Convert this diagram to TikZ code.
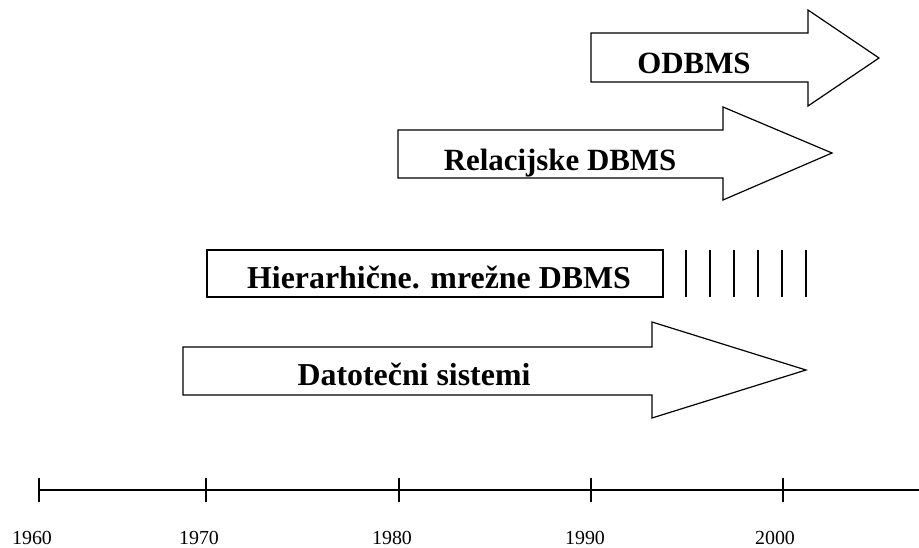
\documentclass[tikz,border=0pt]{standalone}
\usepackage{fontspec}
\setmainfont{Liberation Serif}
\usetikzlibrary{positioning}

\begin{document}
\begin{tikzpicture}[x=1bp, y=-1bp,
  strelica/.style={draw, line width=1.2bp, fill=white, line join=miter},
  naziv/.style={font=\fontsize{31}{31}\selectfont\bfseries, anchor=base, inner sep=0pt},
  godina/.style={font=\fontsize{20}{20}\selectfont, anchor=base, inner sep=0pt}]
  % 画布大小
  \useasboundingbox (0,0) rectangle (919,548);

  % ODBMS 箭头
  \draw[strelica] (591,33) -- (808,33) -- (808,10) -- (879,58) -- (808,106) -- (808,82) -- (591,82) -- cycle;
  \node[naziv] (odbms) at (694,74) {ODBMS};

  % 关系型 DBMS 箭头
  \draw[strelica] (398,130) -- (723,130) -- (723,107) -- (832,153) -- (723,200) -- (723,178) -- (398,178) -- cycle;
  \node[naziv] (rel) at (560,171) {Relacijske DBMS};

  % 层次、网状 DBMS：矩形加竖线
  \draw[strelica] (207,250) rectangle (663,297);
  \node[naziv, font=\fontsize{32}{32}\selectfont\bfseries] (hij) at (439,289) {Hierarhične. mrežne DBMS};
  \foreach \x in {686,710,734,758,782,806}
    \draw[line width=1.2bp] (\x,250) -- (\x,297);

  % 文件系统箭头
  \draw[strelica] (183,347) -- (652,347) -- (652,322) -- (806,370) -- (652,418) -- (652,395) -- (183,395) -- cycle;
  \node[naziv, font=\fontsize{32}{32}\selectfont\bfseries] (dat) at (414,385) {Datotečni sistemi};

  % 时间轴
  \coordinate (os0) at (39,490);
  \coordinate (os1) at (919,490);
  \draw[line width=1.5bp] (os0) -- (os1);
  \foreach \x in {39,206,399,591,783}
    \draw[line width=1.2bp] (\x,478) -- (\x,502);

  % 年份
  \node[godina] (g1960) at (32,544) {1960};
  \node[godina] (g1970) at (199,544) {1970};
  \node[godina] (g1980) at (392,544) {1980};
  \node[godina] (g1990) at (585,544) {1990};
  \node[godina] (g2000) at (775,544) {2000};
\end{tikzpicture}
\end{document}
